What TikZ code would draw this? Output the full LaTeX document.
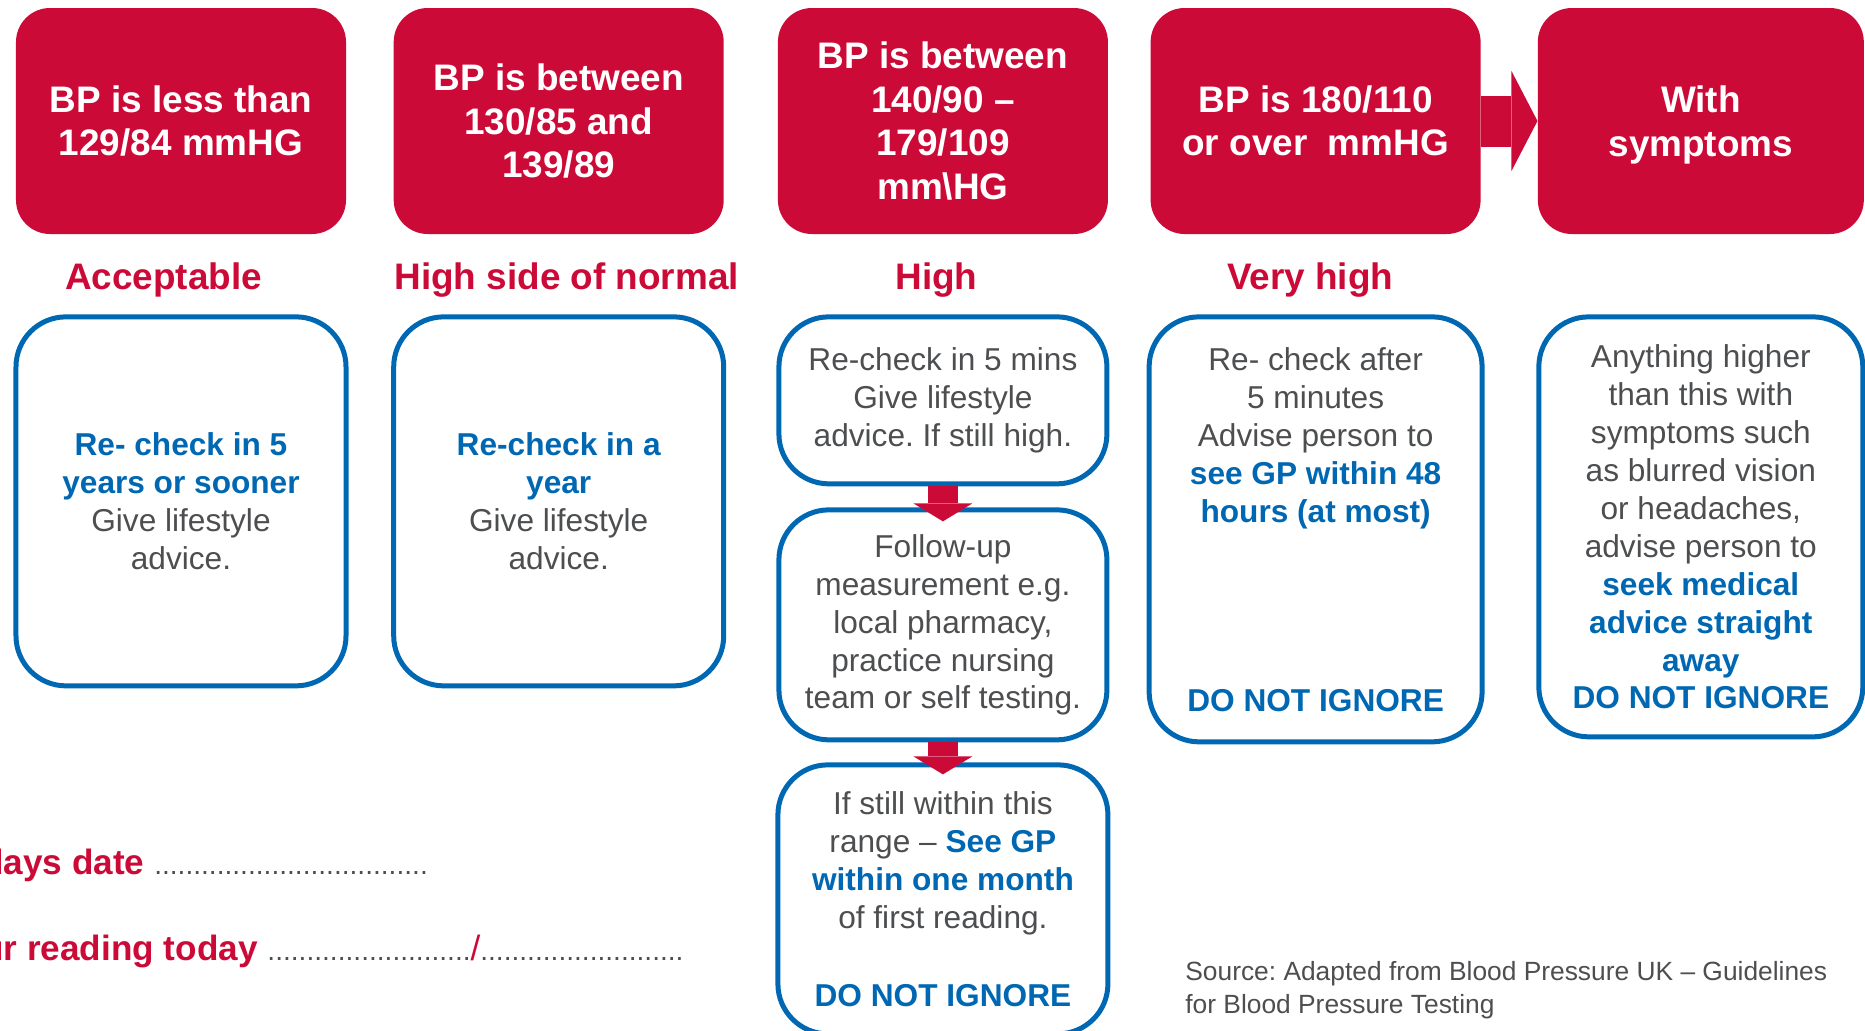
\documentclass[tikz,border=0pt]{standalone}
\usepackage{fontspec}
\setmainfont{Liberation Sans}
\usetikzlibrary{positioning,arrows.meta}
\definecolor{bpred}{HTML}{CC0A37}
\definecolor{bpblue}{HTML}{0068B3}
\definecolor{bpgray}{HTML}{4D4E50}
\newcommand{\bpkey}[1]{\textcolor{bpblue}{\bfseries #1}}
\newcommand{\dotrun}[1]{{\mdseries\fontsize{16}{16}\selectfont\color{bpgray}#1}}
\frenchspacing

\begin{document}
\begin{tikzpicture}[
    >=Stealth,
    rangebox/.style={
        fill=bpred, rounded corners=0.68cm,
        minimum width=#1, minimum height=4.52cm,
        inner sep=2pt, align=center, text=white,
        font=\fontsize{21}{24.75}\selectfont\bfseries
    },
    category/.style={
        font=\fontsize{21}{24}\selectfont\bfseries, text=bpred,
        inner sep=0pt, anchor=base
    },
    advicebox/.style={
        draw=bpblue, line width=0.1cm, rounded corners=1cm,
        minimum width=#1, inner sep=2pt, align=center, text=bpgray,
        font=\fontsize{18}{21.6}\selectfont
    },
    sidearr/.style={draw=bpred, line width=1.02cm,
        -{Triangle[length=0.52cm, width=2cm, line width=0pt]}},
    downarr/.style={draw=bpred, line width=0.6cm,
        -{Triangle[length=0.36cm, width=1.18cm, line width=0pt]}},
    formline/.style={
        inner sep=0pt, anchor=base west, text=bpred,
        font=\fontsize{20}{24}\selectfont
    },
    source/.style={
        inner sep=0pt, anchor=base west, align=left, text=bpgray,
        font=\fontsize{15}{18.5}\selectfont
    },
]

\useasboundingbox (0,0) rectangle (37.3,-20.6);
\clip (0,0) rectangle (37.3,-20.6);

% === Blood pressure ranges ===
\node[rangebox=6.6cm] at (3.62,-2.42) (r1) {BP is less than\\129/84 mmHG};
\node[rangebox=6.6cm, right=0.94cm of r1] (r2) {BP is between\\130/85 and\\139/89};
\node[rangebox=6.6cm, right=1.07cm of r2] (r3) {BP is between\\140/90 --\\179/109\\mm\textbackslash HG};
\node[rangebox=6.6cm, right=0.84cm of r3] (r4) {BP is 180/110\\or over~ mmHG};
\node[rangebox=6.52cm, text depth=0pt, right=1.13cm of r4] (r5) {With\\symptoms};

\draw[sidearr] (r4.east) -- (r5.west);

% === Categories ===
\node[category] (c1) at ([xshift=-0.35cm, yshift=-1.1cm]r1.south) {Acceptable};
\node[category] (c2) at ([xshift=0.16cm, yshift=-1.1cm]r2.south) {High side of normal};
\node[category] (c3) at ([xshift=-0.13cm, yshift=-1.1cm]r3.south) {High};
\node[category] (c4) at ([xshift=-0.11cm, yshift=-1.1cm]r4.south) {Very high};

% === Advice boxes ===
\node[advicebox=6.6cm, minimum height=7.38cm, below=1.6cm of r1] (b1)
    {\bpkey{Re- check in 5}\\\bpkey{years or sooner}\\Give lifestyle\\advice.};
\node[advicebox=6.6cm, minimum height=7.38cm, below=1.6cm of r2] (b2)
    {\bpkey{Re-check in a}\\\bpkey{year}\\Give lifestyle\\advice.};

% High: three steps
\node[advicebox=6.56cm, minimum height=3.34cm, below=1.6cm of r3] (b3a)
    {Re-check in 5 mins\\Give lifestyle\\advice. If still high.};
\node[advicebox=6.56cm, minimum height=4.6cm, below=0.42cm of b3a] (b3b)
    {Follow-up\\measurement e.g.\\local pharmacy,\\practice nursing\\team or self testing.};
\node[advicebox=6.6cm, minimum height=5.38cm, below=0.4cm of b3b] (b3c)
    {If still within this\\range -- \bpkey{See GP}\\\bpkey{within one month}\\of first reading.\\[23pt]\bpkey{DO NOT IGNORE}};

\draw[downarr, shorten >=-0.28cm] (b3a.south) -- (b3b.north);
\draw[downarr, shorten >=-0.24cm] (b3b.south) -- (b3c.north);

% Very high / with symptoms
\node[advicebox=6.66cm, minimum height=8.5cm, below=1.6cm of r4] (b4)
    {Re- check after\\5 minutes\\Advise person to\\\bpkey{see GP within 48}\\\bpkey{hours (at most)}\\[86pt]\bpkey{DO NOT IGNORE}};
\node[advicebox=6.48cm, minimum height=8.4cm, below=1.6cm of r5] (b5)
    {Anything higher\\than this with\\symptoms such\\as blurred vision\\or headaches,\\advise person to\\\bpkey{seek medical}\\\bpkey{advice straight}\\\bpkey{away}\\\bpkey{DO NOT IGNORE}};

% === Form lines ===
\node[formline] (datefield) at (-0.36,-17.48)
    {\bfseries days date\ \dotrun{...................................}};
\node[formline] (readfield) at ([yshift=-1.72cm]datefield.base west)
    {\bfseries ur reading today\ \dotrun{..........................}{\mdseries/}\dotrun{..........................}};

% Source note (base = last line)
\node[source] (src) at (23.7,-20.26)
    {Source: Adapted from Blood Pressure UK -- Guidelines\\for Blood Pressure Testing};

\end{tikzpicture}
\end{document}
